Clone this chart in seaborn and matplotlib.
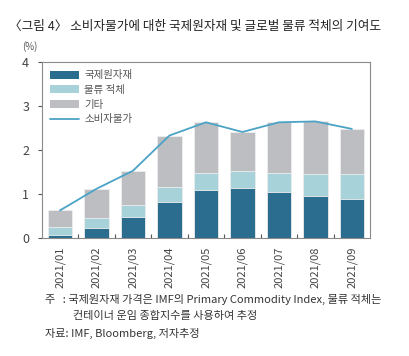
import numpy as np
import pandas as pd
import matplotlib
matplotlib.use('Agg')
import matplotlib.pyplot as plt
import seaborn as sns
from matplotlib.patches import Patch
from matplotlib.lines import Line2D

# values (%p contribution)
months = ['2021/01', '2021/02', '2021/03', '2021/04', '2021/05',
          '2021/06', '2021/07', '2021/08', '2021/09']
commodity = [0.08, 0.24, 0.48, 0.81, 1.10, 1.13, 1.05, 0.96, 0.90]
logistics = [0.17, 0.21, 0.27, 0.35, 0.38, 0.39, 0.43, 0.49, 0.55]
other = [0.38, 0.67, 0.78, 1.17, 1.15, 0.89, 1.15, 1.20, 1.03]
cpi = [0.63, 1.12, 1.53, 2.33, 2.63, 2.41, 2.63, 2.65, 2.48]

labels = ['국제원자재', '물류 적체', '기타', '소비자물가']
c_dark = '#2a6d8e'
c_light = '#a8d2da'
c_gray = '#bcbec1'
c_line = '#4ba3c6'

sns.set_theme(style='white')
plt.rcParams['font.family'] = ['Noto Sans CJK KR', 'DejaVu Sans']

df = pd.DataFrame({'month': months, 'commodity': commodity,
                   'logistics': logistics, 'other': other, 'cpi': cpi})
df['lvl2'] = df['commodity'] + df['logistics']
df['lvl3'] = df['lvl2'] + df['other']

fig = plt.figure(figsize=(4.09, 3.56), dpi=100)
ax = fig.add_axes([0.102, 0.331, 0.803, 0.495])

# stacked bars: draw cumulative heights back to front
bar_kw = dict(width=0.67, edgecolor='#eeeeee', linewidth=0.6, ax=ax)
sns.barplot(data=df, x='month', y='lvl3', color=c_gray, saturation=1, **bar_kw)
sns.barplot(data=df, x='month', y='lvl2', color=c_light, saturation=1, **bar_kw)
sns.barplot(data=df, x='month', y='commodity', color=c_dark, saturation=1, **bar_kw)
sns.lineplot(data=df, x='month', y='cpi', color=c_line, linewidth=1.3, ax=ax)

ax.set_xlim(-0.5, 8.5)
ax.set_ylim(0, 4)
ax.set_yticks([0, 1, 2, 3, 4])
ax.set_xlabel('')
ax.set_ylabel('')
ax.set_xticks(range(9))
ax.set_xticklabels(months, rotation=90, fontsize=8, color='#444444')
ax.set_xticks(np.arange(0.5, 8.5, 1), minor=True)
ax.tick_params(axis='x', which='major', length=0, pad=6)
ax.tick_params(axis='x', which='minor', direction='in', length=3,
               color='#555555', width=0.8)
ax.tick_params(axis='y', direction='out', length=3, color='#555555',
               width=0.8, labelsize=9, labelcolor='#444444', pad=6)
ax.yaxis.set_ticks_position('left')
ax.xaxis.set_ticks_position('bottom')
for s in ax.spines.values():
    s.set_color('#8a8a8a')
    s.set_linewidth(0.8)

handles = [Patch(facecolor=c_dark, edgecolor='none'),
           Patch(facecolor=c_light, edgecolor='none'),
           Patch(facecolor=c_gray, edgecolor='none'),
           Line2D([0], [0], color=c_line, linewidth=1.3)]
ax.legend(handles, labels, loc='upper left', frameon=False, fontsize=7.5,
          handlelength=2.8, handleheight=0.8, labelspacing=0.45,
          handletextpad=0.5, borderaxespad=0.4, labelcolor='#555555')

fig.text(0.022, 0.925, '〈그림 4〉 소비자물가에 대한 국제원자재 및 글로벌 물류 적체의 기여도',
         fontsize=9.1, color='#222222', va='center')
fig.text(0.055, 0.868, '(%)', fontsize=7, color='#555555', va='center')

fig.text(0.11, 0.16, '주   : 국제원자재 가격은 IMF의 Primary Commodity Index, 물류 적체는',
         fontsize=8, color='#333333', va='center')
fig.text(0.178, 0.112, '컨테이너 운임 종합지수를 사용하여 추정',
         fontsize=8, color='#333333', va='center')
fig.text(0.11, 0.062, '자료: IMF, Bloomberg, 저자추정',
         fontsize=8, color='#333333', va='center')

fig.savefig('out.png', dpi=100)
